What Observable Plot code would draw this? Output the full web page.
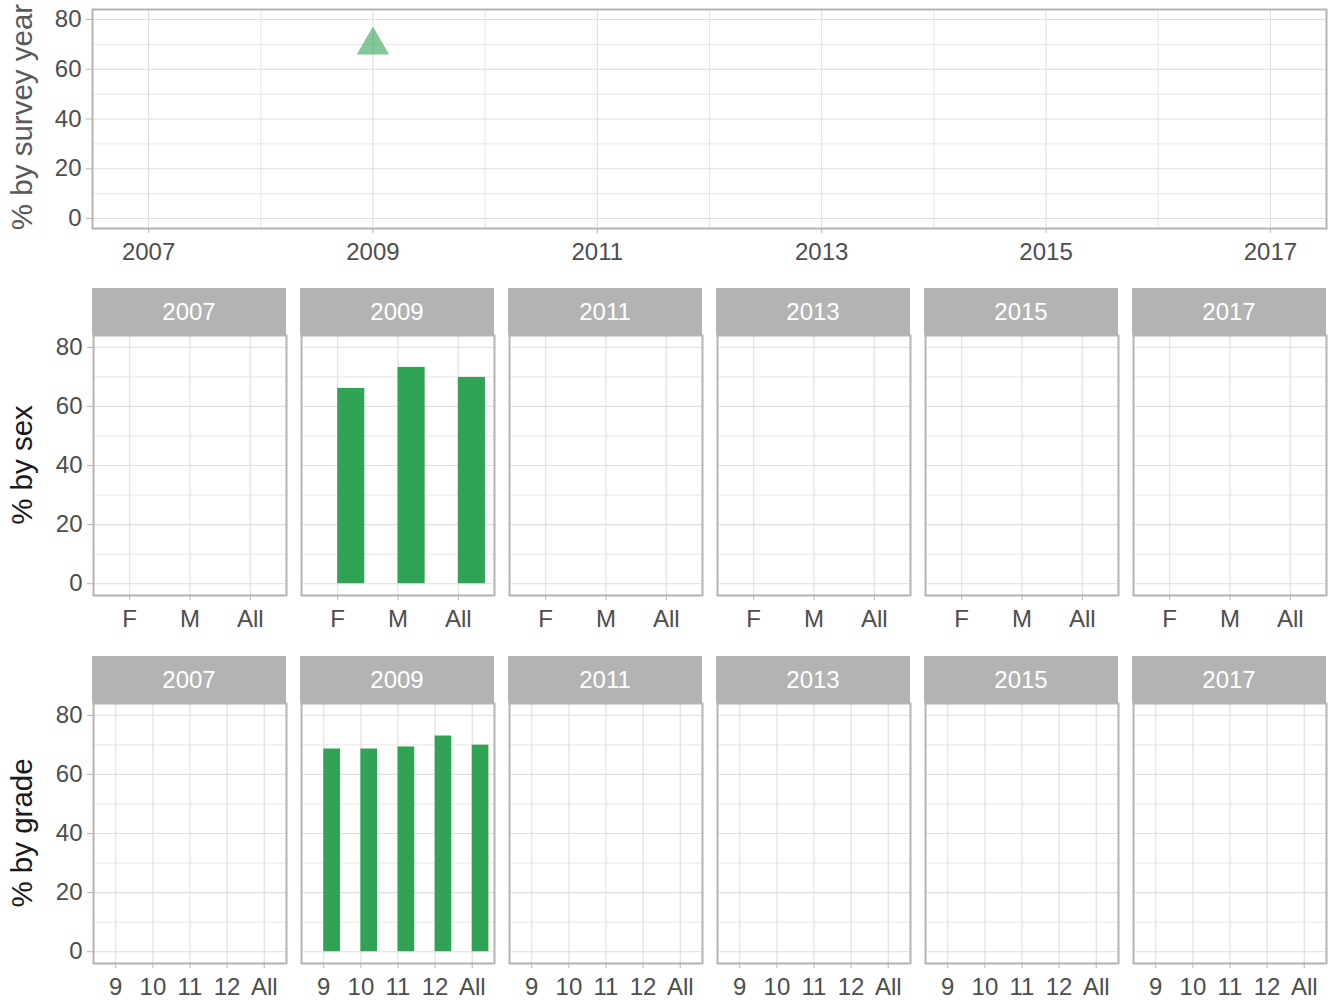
<!DOCTYPE html>
<html>
<head>
<meta charset="utf-8">
<script src="https://cdn.jsdelivr.net/npm/d3@7"></script>
<script src="https://cdn.jsdelivr.net/npm/@observablehq/plot@0.6"></script>
<style>
  html, body { margin: 0; padding: 0; background: #fff; }
  #root { position: relative; width: 1329px; height: 1000px; overflow: hidden; font-family: "Liberation Sans", Arial, sans-serif; }
  .strip { position: absolute; background: #b3b3b3; color: #fff; font-size: 24px; text-align: center; height: 47px; line-height: 47px; }
  .ytitle { position: absolute; font-size: 29.5px; white-space: nowrap; transform: translate(-50%, -50%) rotate(-90deg); }
  svg { overflow: visible; }
</style>
</head>
<body>
<div id="root"></div>
<script>
// ---- data ----
const years = [2007, 2009, 2011, 2013, 2015, 2017];
const minorYears = [2008, 2010, 2012, 2014, 2016];
const yTicks = [0, 20, 40, 60, 80];
const yMinor = [10, 30, 50, 70];

const surveyYears = [2009];
const surveyValues = [69.7];

const sexCategories = ["F", "M", "All"];
const sexYears = [2009];
const sexValues = [[66.1, 73.2, 69.8]];

const gradeCategories = ["9", "10", "11", "12", "All"];
const gradeYears = [2009];
const gradeValues = [[68.6, 68.6, 69.3, 73.0, 69.9]];

const barWidth = 0.45;
const green = "#31a354";
// ---------------

const root = document.getElementById("root");
const FONT = "'Liberation Sans', Arial, sans-serif";
const gridMajor = {stroke: "#dedede", strokeOpacity: 1, strokeWidth: 1.1};
const gridMinor = {stroke: "#e3e3e3", strokeOpacity: 1, strokeWidth: 0.9};
const axisStyle = {stroke: "#b3b3b3", fill: "#4d4d4d", fontSize: 24, label: null};

function place(el, left, top) {
  el.style.position = "absolute";
  el.style.left = left + "px";
  el.style.top = top + "px";
  root.appendChild(el);
}

// ---- top panel: % by survey year ----
{
  const data = surveyYears.map((y, i) => ({year: y, value: surveyValues[i]}));
  const p = Plot.plot({
    width: 1329, height: 270,
    marginLeft: 92, marginRight: 3, marginTop: 9, marginBottom: 42,
    style: {fontFamily: FONT, fontSize: "24px", background: "transparent", overflow: "visible"},
    x: {domain: [2006.5, 2017.5]},
    y: {domain: [-4, 84]},
    marks: [
      Plot.gridY(yMinor, gridMinor),
      Plot.gridX(minorYears, gridMinor),
      Plot.gridY(yTicks, gridMajor),
      Plot.gridX(years, gridMajor),
      Plot.dot(data, {x: "year", y: "value", symbol: "triangle", r: 12, fill: green, fillOpacity: 0.6, stroke: "none"}),
      Plot.axisX(years, {...axisStyle, tickSize: 5, tickPadding: 9, tickFormat: d => String(d)}),
      Plot.axisY(yTicks, {...axisStyle, tickSize: 6, tickPadding: 5}),
      Plot.frame({stroke: "#b3b3b3", strokeWidth: 2})
    ]
  });
  place(p, 0, 0);
  const t = document.createElement("div");
  t.className = "ytitle";
  t.textContent = "% by survey year";
  t.style.left = "22px"; t.style.top = "117px"; t.style.color = "#595959";
  root.appendChild(t);
}

// ---- faceted rows ----
function facetRow({cats, yrs, vals, stripTop, plotTop, plotH, marginBottom, title, titleY}) {
  const n = cats.length;
  years.forEach((yr, c) => {
    const panelLeft = 93 + c * 208;
    const panelW = 193;
    const ml = c === 0 ? 93 : 8;
    const mr = 8;
    const k = yrs.indexOf(yr);
    const rows = k < 0 ? [] : cats.map((cat, i) => ({i, cat, value: vals[k][i]}));
    const marks = [
      Plot.gridY(yMinor, gridMinor),
      Plot.gridY(yTicks, gridMajor),
      Plot.gridX(d3.range(n), gridMajor),
      Plot.rectY(rows, {x1: "i", x2: d => d.i + barWidth, y: "value", fill: green}),
      Plot.axisX(d3.range(n), {...axisStyle, tickSize: 5, tickPadding: 9, tickFormat: i => cats[i]})
    ];
    if (c === 0) marks.push(Plot.axisY(yTicks, {...axisStyle, tickSize: 6, tickPadding: 5}));
    else marks.push(Plot.axisY([], {label: null}));
    marks.push(Plot.frame({stroke: "#b3b3b3", strokeWidth: 2}));
    const p = Plot.plot({
      width: ml + panelW + mr, height: 10 + plotH + marginBottom,
      marginLeft: ml, marginRight: mr, marginTop: 10, marginBottom,
      style: {fontFamily: FONT, fontSize: "24px", background: "transparent", overflow: "visible"},
      x: {domain: [-0.6, n - 0.4]},
      y: {domain: [-4, 84]},
      marks
    });
    place(p, panelLeft - ml, plotTop - 10);
    const s = document.createElement("div");
    s.className = "strip";
    s.textContent = String(yr);
    s.style.left = (panelLeft - 1) + "px";
    s.style.width = (panelW + 1) + "px";
    s.style.top = stripTop + "px";
    root.appendChild(s);
  });
  const t = document.createElement("div");
  t.className = "ytitle";
  t.textContent = title;
  t.style.left = "22px"; t.style.top = titleY + "px"; t.style.color = "#1a1a1a";
  root.appendChild(t);
}

facetRow({cats: sexCategories, yrs: sexYears, vals: sexValues,
  stripTop: 288, plotTop: 335, plotH: 260, marginBottom: 45, title: "% by sex", titleY: 465});
facetRow({cats: gradeCategories, yrs: gradeYears, vals: gradeValues,
  stripTop: 656, plotTop: 703, plotH: 260, marginBottom: 37, title: "% by grade", titleY: 833});
</script>
</body>
</html>
